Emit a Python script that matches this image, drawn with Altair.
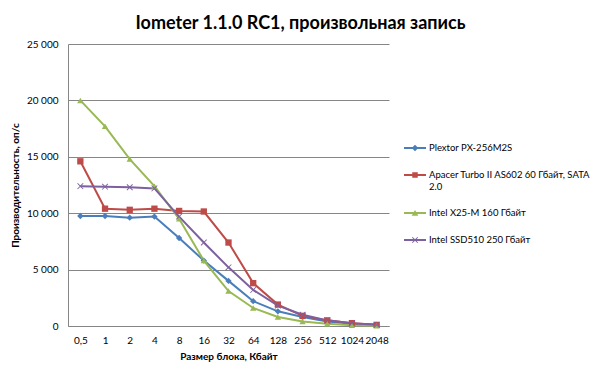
import altair as alt
import pandas as pd

sizes = ["0,5", "1", "2", "4", "8", "16", "32", "64", "128", "256", "512", "1024", "2048"]
series = ["Plextor PX-256M2S", "Apacer Turbo II AS602 60 Гбайт, SATA 2.0",
          "Intel X25-M 160 Гбайт", "Intel SSD510 250 Гбайт"]
plextor = [9750, 9750, 9600, 9700, 7800, 5800, 4000, 2200, 1300, 800, 400, 200, 100]
apacer = [14600, 10400, 10300, 10400, 10200, 10150, 7400, 3800, 1900, 900, 500, 250, 100]
x25m = [20000, 17700, 14800, 12400, 9500, 5800, 3100, 1600, 800, 400, 200, 60, 20]
ssd510 = [12400, 12350, 12300, 12200, 9700, 7400, 5200, 3200, 1800, 1000, 500, 250, 100]
colors = ["#4A7EBB", "#BE4B48", "#98B954", "#7D60A0"]
xpath = "M-1,-0.8L-0.8,-1L0,-0.2L0.8,-1L1,-0.8L0.2,0L1,0.8L0.8,1L0,0.2L-0.8,1L-1,0.8L-0.2,0Z"
shapes = ["diamond", "square", "triangle-up", xpath]

# legend symbols: short line with a small marker in the middle
seg = "M-1,-0.09L1,-0.09L1,0.09L-1,0.09Z"
leg_marks = [
    "M0,-0.3L0.3,0L0,0.3L-0.3,0Z",
    "M-0.25,-0.25L0.25,-0.25L0.25,0.25L-0.25,0.25Z",
    "M0,-0.28L0.3,0.24L-0.3,0.24Z",
    "M-0.28,-0.22L-0.22,-0.28L0,-0.06L0.22,-0.28L0.28,-0.22L0.06,0L0.28,0.22L0.22,0.28L0,0.06L-0.22,0.28L-0.28,0.22L-0.06,0Z",
]
leg_paths = [seg + m for m in leg_marks]

rows = []
for name, vals in zip(series, [plextor, apacer, x25m, ssd510]):
    for s, v in zip(sizes, vals):
        rows.append({"size": s, "value": v, "series": name})
df = pd.DataFrame(rows)

font = "Lato"
x = alt.X("size:N", sort=sizes, scale=alt.Scale(paddingInner=0, paddingOuter=0.5),
          axis=alt.Axis(title="Размер блока, Кбайт", labelAngle=0, grid=False,
                        domainColor="#868686", ticks=False,
                        labelPadding=9, titlePadding=6, labelFontSize=10,
                        titleFontSize=10, titleFontWeight="bold", labelColor="#000",
                        titleColor="#000"))
y = alt.Y("value:Q", scale=alt.Scale(domain=[0, 25000]),
          axis=alt.Axis(title="Производительность,  оп/с", values=[0, 5000, 10000, 15000, 20000, 25000],
                        labelExpr="replace(format(datum.value, ','), ',', ' ')",
                        gridColor="#868686", domainColor="#868686", ticks=False,
                        labelPadding=10, labelFontSize=10, titleFontSize=10,
                        titleFontWeight="bold", titleX=-48, titleY=141,
                        labelColor="#000", titleColor="#000"))

leg = alt.Legend(title=None, orient="none", legendX=336, legendY=93,
                 labelFontSize=9.5, labelLimit=220, rowPadding=11,
                 symbolSize=484, labelOffset=3, symbolStrokeWidth=0, labelColor="#000",
                 labelExpr="datum.label == 'Apacer Turbo II AS602 60 Гбайт, SATA 2.0' ? ['Apacer Turbo II AS602 60 Гбайт, SATA', '2.0'] : datum.label")

cscale = alt.Scale(domain=series, range=colors)
color_plain = alt.Color("series:N", sort=series, scale=cscale, legend=None)

lines = alt.Chart(df).mark_line(strokeWidth=2).encode(x=x, y=y, color=color_plain)
points = alt.Chart(df).mark_point(filled=True, size=40, opacity=1).encode(
    x=x, y=y, color=color_plain,
    shape=alt.Shape("series:N", sort=series, scale=alt.Scale(domain=series, range=shapes), legend=None))
legend_layer = alt.Chart(df).transform_filter("false").mark_point(filled=True, opacity=1).encode(
    x=x, y=y,
    color=alt.Color("series:N", sort=series, scale=cscale, legend=leg),
    shape=alt.Shape("series:N", sort=series, scale=alt.Scale(domain=series, range=leg_paths), legend=leg))

chart = (lines + points + legend_layer).resolve_scale(
    color="independent", shape="independent").properties(
    width=321, height=282,
    autosize=alt.AutoSizeParams(type="none"),
    padding={"left": 60, "top": 36, "right": 203, "bottom": 41},
    title=alt.TitleParams("Iometer 1.1.0 RC1, произвольная запись", fontSize=18,
                          fontWeight="bold", font=font, anchor="middle", dx=72,
                          offset=14, dy=8, color="#000"),
).configure(font=font).configure_view(stroke=None)

chart.save("out.html", embed_options={"renderer": "svg", "actions": False})
